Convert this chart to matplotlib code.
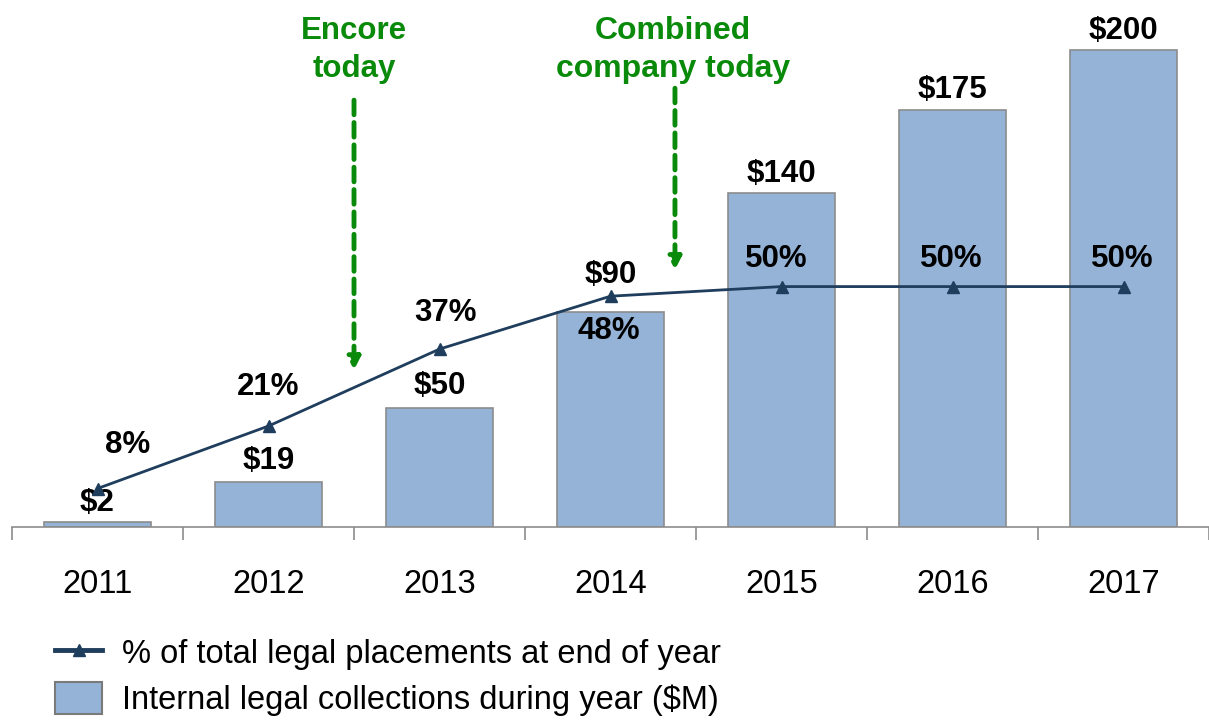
import matplotlib
matplotlib.use("Agg")
import matplotlib.pyplot as plt
from matplotlib.lines import Line2D
from matplotlib.patches import Patch

plt.rcParams['font.family'] = ['Liberation Sans', 'DejaVu Sans']

years = ['2011', '2012', '2013', '2014', '2015', '2016', '2017']
collections = [2, 19, 50, 90, 140, 175, 200]   # $M
placement_pct = [8, 21, 37, 48, 50, 50, 50]    # %

BAR_COLOR = '#95b3d7'
BAR_EDGE = '#8c8c8c'
LINE_COLOR = '#1f3d5c'
GREEN = '#0a8a0a'

fig = plt.figure(figsize=(12.09, 7.22), dpi=100)
W, H = 1209, 722
ax = fig.add_axes([12 / W, 195 / H, (W - 12) / W, 527 / H])
ax2 = ax.twinx()

x = list(range(len(years)))
ax.bar(x, collections, width=0.625, color=BAR_COLOR, edgecolor=BAR_EDGE, linewidth=1.2, zorder=2)
ax2.plot(x, placement_pct, color=LINE_COLOR, lw=2, marker='^', markersize=8, zorder=3)

ax.set_xlim(-0.5, len(years) - 0.5)
ax.set_ylim(0, 221)
ax2.set_ylim(0, 109.6)

for a in (ax, ax2):
    for s in ('top', 'right', 'left'):
        a.spines[s].set_visible(False)
    a.set_yticks([])
ax2.spines['bottom'].set_visible(False)
ax.spines['bottom'].set_color('#8c8c8c')
ax.spines['bottom'].set_linewidth(1.2)

ax.set_xticks(x)
ax.set_xticklabels(years, fontsize=23.5)
ax.set_xticks([i - 0.5 for i in range(len(years) + 1)], minor=True)
ax.tick_params(axis='x', which='major', length=0, pad=30)
ax.tick_params(axis='x', which='minor', length=9.5, width=1.2, color='#8c8c8c')

# bar value labels (offsets in points above bar top)
bar_offsets = [14, 15, 16, 27, 14, 14, 14]
for xi, v, off in zip(x, collections, bar_offsets):
    ax.annotate(f'${v}', (xi, v), xytext=(0, off), textcoords='offset points',
                ha='center', va='center', fontsize=22.5, fontweight='bold', zorder=5)

# percentage labels
pct_offsets = [(22, 31), (0, 28), (4, 26), (-1, -25), (-4, 20), (-1, 20), (-1, 20)]
for xi, p, (dx, dy) in zip(x, placement_pct, pct_offsets):
    ax2.annotate(f'{p}%', (xi, p), xytext=(dx, dy), textcoords='offset points',
                 ha='center', va='center', fontsize=22.5, fontweight='bold', zorder=5)

# "today" markers
arrow = dict(arrowstyle='-|>', color=GREEN, lw=3.5, linestyle=(0, (3, 1.6)),
             mutation_scale=18, shrinkA=0, shrinkB=0)
ax.annotate('', xy=(1.5, 65.8), xytext=(1.5, 179), arrowprops=arrow)
ax.text(1.5, 200, 'Encore\ntoday', ha='center', va='center', color=GREEN,
        fontsize=22.5, fontweight='bold', linespacing=1.38)
ax.annotate('', xy=(3.377, 107.8), xytext=(3.377, 184), arrowprops=arrow)
ax.text(3.365, 200, 'Combined\ncompany today', ha='center', va='center', color=GREEN,
        fontsize=23, fontweight='bold', linespacing=1.36)

handles = [Line2D([], [], color=LINE_COLOR, lw=3.5, marker='^', markersize=8),
           Patch(facecolor=BAR_COLOR, edgecolor='#7a7a7a', linewidth=1.5)]
labels = ['% of total legal placements at end of year',
          'Internal legal collections during year ($M)']
fig.legend(handles, labels, loc='upper left', bbox_to_anchor=(55 / W, 1 - 636 / H),
           frameon=False, fontsize=23.5, borderpad=0, borderaxespad=0,
           handlelength=1.45, handleheight=1.15, handletextpad=0.6, labelspacing=0.36)

fig.savefig('out.png', dpi=100)
